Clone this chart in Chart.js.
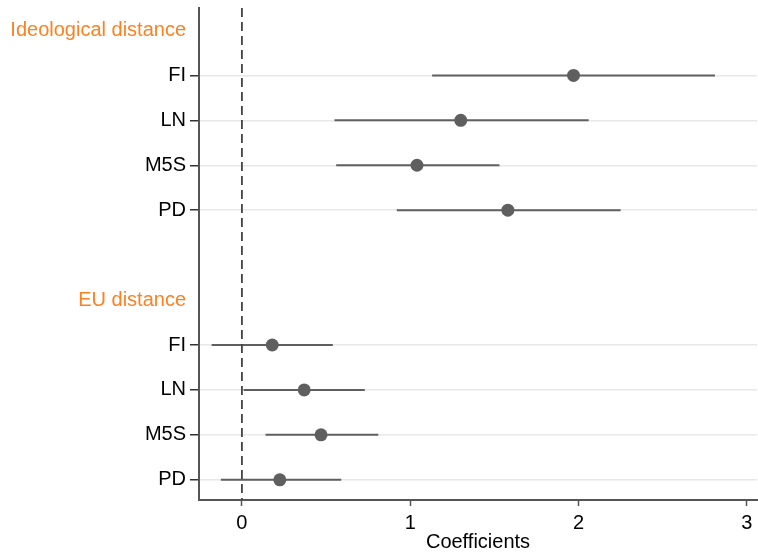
<html lang="en">
  <head>
    <meta charset="utf-8">
    <title>Coefficients</title>
    <script src="https://cdn.jsdelivr.net/npm/chart.js@4.4.1/dist/chart.umd.min.js"></script>
    <style>
      body { margin: 0; background: #fff; }
    </style>
  </head>
  <body>
  <canvas id="coefChart" width="758" height="554"></canvas>
  <script>
    // row labels, top to bottom ('' = empty spacer row)
    var rowLabels = ['Ideological distance', 'FI', 'LN', 'M5S', 'PD', '', 'EU distance', 'FI', 'LN', 'M5S', 'PD'];
    var headerRows = [0, 6];
    var ideoRows = [1, 2, 3, 4];
    var euRows = [7, 8, 9, 10];

    // ideological distance block
    var ideoCoef = [1.97, 1.30, 1.04, 1.58];
    var ideoLow = [1.13, 0.55, 0.56, 0.92];
    var ideoHigh = [2.81, 2.06, 1.53, 2.25];

    // EU distance block
    var euCoef = [0.18, 0.37, 0.47, 0.225];
    var euLow = [-0.18, 0.01, 0.14, -0.125];
    var euHigh = [0.54, 0.73, 0.81, 0.59];

    var xTicks = [0, 1, 2, 3];

    var markColor = '#5f5f5f';
    var orange = '#fb8223';
    var datasets = [];

    // reference line at zero
    datasets.push({
      data: [{x: 0, y: -0.5}, {x: 0, y: 10.45}],
      showLine: true,
      borderColor: '#444',
      borderWidth: 1.8,
      borderDash: [9, 5],
      pointRadius: 0
    });

    // confidence intervals
    function addIntervals(rows, low, high) {
      for (var i = 0; i < rows.length; i++) {
        datasets.push({
          data: [{x: low[i], y: rows[i]}, {x: high[i], y: rows[i]}],
          showLine: true,
          borderColor: markColor,
          borderWidth: 2,
          pointRadius: 0
        });
      }
    }
    addIntervals(ideoRows, ideoLow, ideoHigh);
    addIntervals(euRows, euLow, euHigh);

    // point estimates
    var points = [];
    ideoRows.forEach(function(r, i) { points.push({x: ideoCoef[i], y: r}); });
    euRows.forEach(function(r, i) { points.push({x: euCoef[i], y: r}); });
    datasets.push({
      data: points,
      backgroundColor: markColor,
      borderColor: markColor,
      pointRadius: 6.5,
      borderWidth: 0
    });

    function isParty(v) {
      return ideoRows.indexOf(v) >= 0 || euRows.indexOf(v) >= 0;
    }

    var font = {family: '"Liberation Sans", Arial, sans-serif', size: 20};

    new Chart(document.getElementById('coefChart').getContext('2d'), {
      type: 'scatter',
      data: { datasets: datasets },
      options: {
        responsive: false,
        animation: false,
        layout: { autoPadding: false, padding: { top: 8, right: 1, left: 0, bottom: 0 } },
        plugins: { legend: { display: false }, tooltip: { enabled: false } },
        scales: {
          x: {
            type: 'linear',
            min: -0.255,
            max: 3.06,
            afterBuildTicks: function(scale) {
              scale.ticks = xTicks.map(function(v) { return {value: v}; });
            },
            afterFit: function(scale) {
              scale.height = 54;
              scale.paddingLeft = 0;
              scale.paddingRight = 0;
            },
            ticks: { color: '#000', font: font, padding: 5 },
            grid: { drawOnChartArea: false, tickLength: 6, tickColor: '#555', tickWidth: 1.5 },
            border: { color: '#555', width: 2 },
            title: { display: true, text: 'Coefficients', color: '#000', font: font, padding: { top: 3, bottom: 0 } }
          },
          y: {
            type: 'linear',
            reverse: true,
            min: -0.5,
            max: 10.45,
            afterBuildTicks: function(scale) {
              scale.ticks = rowLabels.map(function(l, i) { return {value: i}; });
            },
            afterFit: function(scale) {
              scale.width = 199;
              scale.paddingTop = 0;
              scale.paddingBottom = 0;
            },
            ticks: {
              autoSkip: false,
              font: font,
              padding: 4,
              callback: function(v) { return rowLabels[v]; },
              color: function(ctx) {
                return headerRows.indexOf(ctx.tick.value) >= 0 ? orange : '#000';
              }
            },
            grid: {
              tickLength: 9,
              lineWidth: 1.5,
              color: function(ctx) { return isParty(ctx.tick.value) ? '#e8e8e8' : 'rgba(0,0,0,0)'; },
              tickColor: function(ctx) { return isParty(ctx.tick.value) ? '#333' : 'rgba(0,0,0,0)'; }
            },
            border: { color: '#555', width: 2 }
          }
        }
      }
    });
  </script>
  </body>
</html>
